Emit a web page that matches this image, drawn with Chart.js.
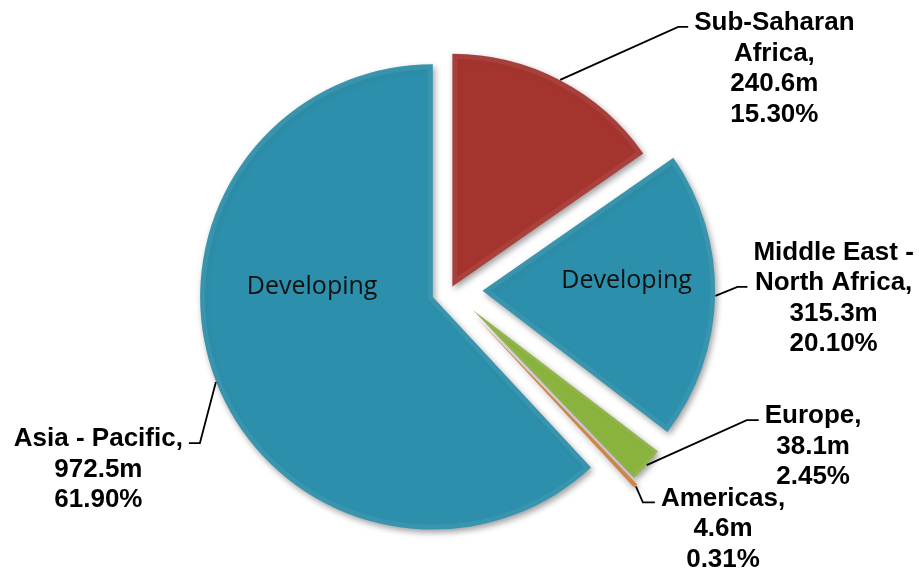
<!DOCTYPE html>
<html>
<head>
<meta charset="utf-8">
<script src="https://cdn.jsdelivr.net/npm/chart.js@4.4.1/dist/chart.umd.min.js"></script>
<style>
  html, body { margin: 0; padding: 0; background: #ffffff; }
  #wrap { width: 919px; height: 577px; }
</style>
</head>
<body>
<div id="wrap"><canvas id="pie" width="919" height="577"></canvas></div>
<script>
// Regions, clockwise from 12 o'clock
const regions = ['Sub-Saharan Africa', 'Middle East - North Africa', 'Europe', 'Americas', 'Asia - Pacific'];
// Population in millions
const populationM = [240.6, 315.3, 38.1, 4.6, 972.5];
// Label texts
const nameLines = [['Sub-Saharan', 'Africa,'], ['Middle East -', 'North Africa,'], ['Europe,'], ['Americas,'], ['Asia - Pacific,']];
const valueLabels = ['240.6m', '315.3m', '38.1m', '4.6m', '972.5m'];
const shareLabels = ['15.30%', '20.10%', '2.45%', '0.31%', '61.90%'];
const groupTags = ['', 'Developing', '', '', 'Developing'];

// Styling
const sliceColors = ['#A5342F', '#2C8FAB', '#8BB43F', '#CF8548', '#2C8FAB'];
const bevelWidths = [5, 5, 3, 0, 5];
const explodePx = [4, 32, 30, 37, 19];
// leader line: elbow offset from the slice's outer mid point, then a short horizontal hook
const leaderElbow = [[118, -53], [22, -9], [100, -45], [7, 16], [-16, 61]];
const leaderHook = [10, 10, 12, 12, -11];
const attachLine = [0, 1, 0, 0, 0];
// "Developing" tag placement inside a slice: angle (deg, clockwise from top) and fraction of radius
const tagAngle = [0, 86, 0, 0, 275];
const tagDist = [0, 0.62, 0, 0, 0.52];

const PIE_RADIUS = 233;
const LABEL_FONT = 'bold 26px "Liberation Sans", Arial, sans-serif';
const LINE_H = 30.5;

function pieCenter(chart) {
  const meta = chart.getDatasetMeta(0);
  const a = chart.chartArea;
  return {
    x: (a.left + a.right) / 2 + (meta.controller.offsetX || 0),
    y: (a.top + a.bottom) / 2 + (meta.controller.offsetY || 0)
  };
}

// Pull each slice out along its bisector and give it a soft drop shadow
const explodePlugin = {
  id: 'explodeSlices',
  beforeDatasetsDraw(chart) {
    const meta = chart.getDatasetMeta(0);
    const c = pieCenter(chart);
    meta.data.forEach((arc, i) => {
      const mid = (arc.startAngle + arc.endAngle) / 2;
      arc.x = c.x + Math.cos(mid) * explodePx[i];
      arc.y = c.y + Math.sin(mid) * explodePx[i];
    });
  },
  beforeDatasetDraw(chart) {
    const ctx = chart.ctx;
    ctx.save();
    ctx.shadowColor = 'rgba(0,0,0,0.38)';
    ctx.shadowBlur = 6;
    ctx.shadowOffsetX = 2;
    ctx.shadowOffsetY = 3;
  },
  afterDatasetDraw(chart) {
    chart.ctx.restore();
  }
};

// Leader lines, outside labels and the inner group tags
const labelPlugin = {
  id: 'sliceLabels',
  afterDatasetsDraw(chart) {
    const ctx = chart.ctx;
    const meta = chart.getDatasetMeta(0);
    ctx.save();
    meta.data.forEach((arc, i) => {
      const mid = (arc.startAngle + arc.endAngle) / 2;
      const r = arc.outerRadius;
      const sx = arc.x + Math.cos(mid) * r;
      const sy = arc.y + Math.sin(mid) * r;
      const ex = sx + leaderElbow[i][0];
      const ey = sy + leaderElbow[i][1];
      const hx = ex + leaderHook[i];

      ctx.strokeStyle = '#000000';
      ctx.lineWidth = 1.8;
      ctx.beginPath();
      ctx.moveTo(sx, sy);
      ctx.lineTo(ex, ey);
      ctx.lineTo(hx, ey);
      ctx.stroke();

      const lines = nameLines[i].concat([valueLabels[i], shareLabels[i]]);
      ctx.font = LABEL_FONT;
      ctx.fillStyle = '#000000';
      ctx.textAlign = 'center';
      ctx.textBaseline = 'alphabetic';
      const maxW = Math.max(...lines.map(t => ctx.measureText(t).width));
      const gap = 6;
      const cx = leaderHook[i] > 0 ? hx + gap + maxW / 2 : hx - gap - maxW / 2;
      lines.forEach((t, k) => {
        const centerY = ey - 6 + (k - attachLine[i]) * LINE_H;
        ctx.fillText(t, cx, centerY + 9.3);
      });

      if (groupTags[i]) {
        const a = (tagAngle[i] - 90) * Math.PI / 180;
        const tx = arc.x + Math.cos(a) * r * tagDist[i];
        const ty = arc.y + Math.sin(a) * r * tagDist[i];
        ctx.font = '25px "Open Sans", "Noto Sans", sans-serif';
        ctx.fillStyle = '#101010';
        ctx.textBaseline = 'middle';
        ctx.fillText(groupTags[i], tx, ty);
      }
    });
    ctx.restore();
  }
};

new Chart(document.getElementById('pie'), {
  type: 'pie',
  data: {
    labels: regions,
    datasets: [{
      data: populationM,
      backgroundColor: sliceColors,
      borderColor: 'rgba(255,255,255,0.07)',
      borderWidth: bevelWidths,
      borderAlign: 'inner',
      radius: PIE_RADIUS,
      clip: false
    }]
  },
  options: {
    responsive: false,
    animation: false,
    events: [],
    rotation: 0,
    layout: { padding: { left: 0, right: 18, top: 6, bottom: 3 } },
    plugins: {
      legend: { display: false },
      tooltip: { enabled: false }
    }
  },
  plugins: [explodePlugin, labelPlugin]
});
</script>
</body>
</html>
